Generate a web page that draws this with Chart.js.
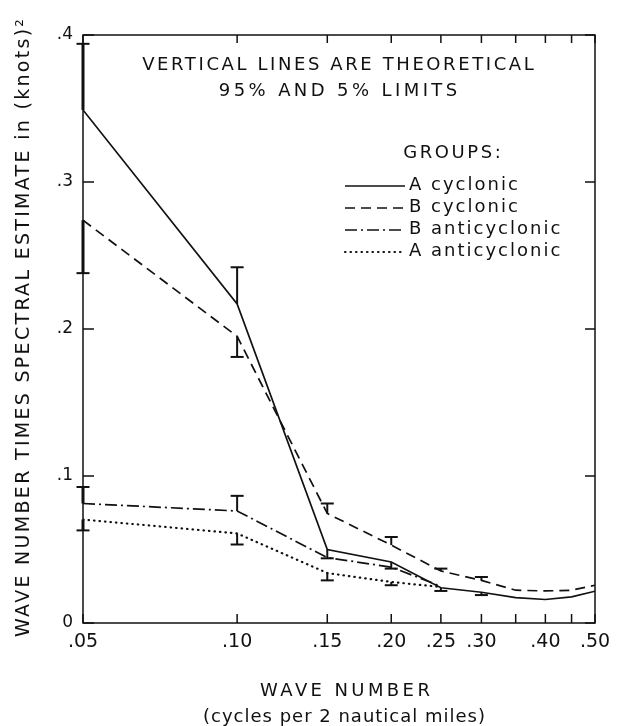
<!DOCTYPE html>
<html>
<head>
<meta charset="utf-8">
<title>Wave number times spectral estimate</title>
<script src="https://cdn.jsdelivr.net/npm/chart.js@4.4.1/dist/chart.umd.min.js"></script>
<style>
  html, body { margin: 0; padding: 0; background: #fff; }
  #wrap { position: relative; width: 619px; height: 726px; }
</style>
</head>
<body>
<div id="wrap"><canvas id="spectrumChart"></canvas></div>
<script>
// Wave numbers (cycles per 2 nautical miles)
const waveNumbers = [0.05, 0.10, 0.15, 0.20, 0.25, 0.30, 0.35, 0.40, 0.45, 0.50];

// Wave number times spectral estimate, in (knots)^2
const aCyclonic     = [0.349, 0.217, 0.050, 0.0415, 0.024, 0.0209, 0.0173, 0.0160, 0.0178, 0.0216];
const bCyclonic     = [0.274, 0.195, 0.0745, 0.053, 0.0354, 0.029, 0.0223, 0.0218, 0.0223, 0.0257];
const bAnticyclonic = [0.0813, 0.0762, 0.0445, 0.038, 0.025, null, null, null, null, null];
const aAnticyclonic = [0.0704, 0.0609, 0.034, 0.0279, 0.0245, null, null, null, null, null];

// Theoretical 95% / 5% limits (line goes from the curve to the limit)
const aCyclonicLimit     = [0.394, 0.242, 0.044, 0.037, 0.0218, 0.019, null, null, null, null];
const bCyclonicLimit     = [0.238, 0.181, 0.0813, 0.0585, 0.037, 0.0313, null, null, null, null];
const bAnticyclonicLimit = [0.0925, 0.0865, null, null, null, null, null, null, null, null];
const aAnticyclonicLimit = [0.063, 0.0534, 0.029, 0.0257, null, null, null, null, null, null];

// Axis ticks
const xTicks = [0.05, 0.10, 0.15, 0.20, 0.25, 0.30, 0.35, 0.40, 0.45, 0.50];
const xTickLabels = ['.05', '.10', '.15', '.20', '.25', '.30', '', '.40', '', '.50'];
const yTicks = [0, 0.1, 0.2, 0.3, 0.4];
const yTickLabels = ['0', '.1', '.2', '.3', '.4'];

const FONT = '"DejaVu Sans", sans-serif';
const INK = '#111';

function toPoints(values) {
    return waveNumbers.map((x, i) => ({ x: x, y: values[i] }));
}

// Draws text with extra spacing between letters
function spacedText(ctx, text, x, y, size, spacing, align) {
    ctx.save();
    ctx.font = size + 'px ' + FONT;
    ctx.letterSpacing = spacing + 'px';
    ctx.textAlign = align || 'center';
    ctx.textBaseline = 'middle';
    ctx.fillStyle = INK;
    // trailing letter spacing would push centred text to the left
    const shift = (align === 'left') ? 0 : spacing / 2;
    ctx.fillText(text, x + shift, y);
    ctx.restore();
}

// Vertical limit lines with a cap at the limit end
const limitsPlugin = {
    id: 'limits',
    afterDatasetsDraw(chart) {
        const ctx = chart.ctx;
        const xs = chart.scales.x, ys = chart.scales.y;
        ctx.save();
        ctx.strokeStyle = INK;
        ctx.lineWidth = 2;
        chart.data.datasets.forEach(ds => {
            ds.limits.forEach((lim, i) => {
                if (lim === null || ds.values[i] === null) return;
                const px = xs.getPixelForValue(waveNumbers[i]);
                const y0 = ys.getPixelForValue(ds.values[i]);
                const y1 = ys.getPixelForValue(lim);
                ctx.lineWidth = i === 0 ? 3 : 2;
                ctx.beginPath();
                ctx.moveTo(px, y0);
                ctx.lineTo(px, y1);
                ctx.stroke();
                ctx.lineWidth = 2;
                ctx.beginPath();
                ctx.moveTo(px - 6.5, y1);
                ctx.lineTo(px + 6.5, y1);
                ctx.stroke();
            });
        });
        ctx.restore();
    }
};

// Box round the plot with inward ticks on all four sides, plus the texts
const framePlugin = {
    id: 'frame',
    beforeDraw(chart) {
        const ctx = chart.ctx;
        ctx.save();
        ctx.fillStyle = '#fff';
        ctx.fillRect(0, 0, chart.width, chart.height);
        ctx.restore();
    },
    afterDraw(chart) {
        const ctx = chart.ctx;
        const a = chart.chartArea;
        const xs = chart.scales.x, ys = chart.scales.y;
        ctx.save();
        ctx.strokeStyle = INK;
        ctx.lineWidth = 1.5;
        ctx.strokeRect(a.left, a.top, a.right - a.left, a.bottom - a.top);
        ctx.beginPath();
        xTicks.forEach(v => {
            const px = xs.getPixelForValue(v);
            ctx.moveTo(px, a.bottom); ctx.lineTo(px, a.bottom - 9);
            ctx.moveTo(px, a.top); ctx.lineTo(px, a.top + 8);
        });
        yTicks.forEach(v => {
            const py = ys.getPixelForValue(v);
            ctx.moveTo(a.left, py); ctx.lineTo(a.left + 11, py);
            ctx.moveTo(a.right, py); ctx.lineTo(a.right - 10, py);
        });
        ctx.stroke();
        ctx.restore();

        // note in the top of the plot
        spacedText(ctx, 'VERTICAL LINES ARE THEORETICAL', 338, 65, 18, 2.6);
        spacedText(ctx, '95% AND 5% LIMITS', 338, 91, 18, 3.4);

        // legend
        spacedText(ctx, 'GROUPS:', 452, 153, 18, 2.6);
        chart.data.datasets.forEach((ds, i) => {
            const rowY = 185 + i * 22;
            ctx.save();
            ctx.strokeStyle = INK;
            ctx.lineWidth = ds.borderWidth;
            ctx.lineCap = ds.borderCapStyle || 'butt';
            ctx.setLineDash(ds.borderDash || []);
            ctx.beginPath();
            ctx.moveTo(345, rowY + 1);
            ctx.lineTo(405, rowY + 1);
            ctx.stroke();
            ctx.restore();
            spacedText(ctx, ds.label, 409, rowY, 18, 2, 'left');
        });

        // axis titles
        spacedText(ctx, 'WAVE NUMBER', 345, 691, 18, 3.4);
        spacedText(ctx, '(cycles per 2 nautical miles)', 344, 717, 18, 1);
        ctx.save();
        ctx.translate(24, 328);
        ctx.rotate(-Math.PI / 2);
        spacedText(ctx, 'WAVE NUMBER TIMES SPECTRAL ESTIMATE in (knots)²', 0, 0, 19, 2.3);
        ctx.restore();
    }
};

function series(label, values, limits, dash, cap) {
    return {
        label: label,
        data: toPoints(values),
        values: values,
        limits: limits,
        borderColor: INK,
        borderWidth: cap === 'round' ? 2.2 : 1.7,
        borderDash: dash,
        borderCapStyle: cap || 'butt',
        pointRadius: 0,
        tension: 0,
        fill: false
    };
}

const ctx = document.getElementById('spectrumChart').getContext('2d');
const spectrumChart = new Chart(ctx, {
    type: 'line',
    data: {
        datasets: [
            series('A cyclonic', aCyclonic, aCyclonicLimit, []),
            series('B cyclonic', bCyclonic, bCyclonicLimit, [10, 6]),
            series('B anticyclonic', bAnticyclonic, bAnticyclonicLimit, [12, 4, 2, 4]),
            series('A anticyclonic', aAnticyclonic, aAnticyclonicLimit, [0.5, 5], 'round')
        ]
    },
    options: {
        responsive: true,
        maintainAspectRatio: false,
        animation: false,
        layout: { padding: { left: 0, right: 24, top: 35, bottom: 0 } },
        plugins: {
            legend: { display: false },
            tooltip: { enabled: false }
        },
        scales: {
            x: {
                type: 'logarithmic',
                min: 0.05,
                max: 0.5,
                afterBuildTicks: scale => { scale.ticks = xTicks.map(v => ({ value: v })); },
                afterFit: scale => { scale.height = 103; },
                grid: { display: false, drawTicks: false },
                border: { display: false },
                ticks: {
                    autoSkip: false,
                    maxRotation: 0,
                    padding: 8,
                    color: INK,
                    font: { family: FONT, size: 19 },
                    callback: (value, index) => xTickLabels[index]
                }
            },
            y: {
                type: 'linear',
                min: 0,
                max: 0.4,
                afterBuildTicks: scale => { scale.ticks = yTicks.map(v => ({ value: v })); },
                afterFit: scale => { scale.width = 83; },
                grid: { display: false, drawTicks: false },
                border: { display: false },
                ticks: {
                    padding: 10,
                    color: INK,
                    font: { family: FONT, size: 17 },
                    callback: (value, index) => yTickLabels[index]
                }
            }
        }
    },
    plugins: [limitsPlugin, framePlugin]
});
</script>
</body>
</html>
